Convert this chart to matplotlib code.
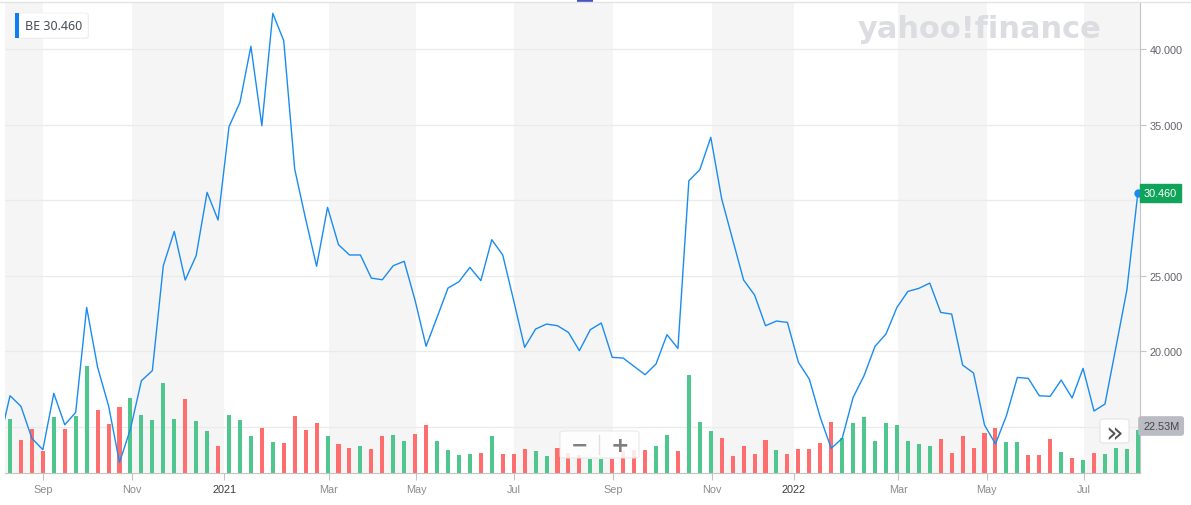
import matplotlib
matplotlib.use("Agg")
import matplotlib.pyplot as plt
from matplotlib.patches import Rectangle, FancyBboxPatch

# weekly closes, BE, Aug 2020 - Aug 2022
price_before = 13.9  # week before the window, only used so the line enters from the left edge
prices = [17.07, 16.37, 14.25, 13.5, 17.23, 15.15, 15.97, 22.91, 18.95, 16.41,
          12.66, 14.87, 18.06, 18.73, 25.67, 27.94, 24.72, 26.33, 30.52, 28.69,
          34.86, 36.47, 40.18, 34.93, 42.36, 40.55, 32.06, 28.76, 25.63, 29.53,
          27.06, 26.38, 26.38, 24.85, 24.74, 25.67, 25.96, 23.36, 20.34, 22.25,
          24.19, 24.61, 25.56, 24.68, 27.39, 26.38, 23.36, 20.27, 21.48, 21.81,
          21.70, 21.26, 20.05, 21.44, 21.88, 19.61, 19.56, 19.01, 18.46, 19.17,
          21.11, 20.20, 31.29, 32.02, 34.16, 30.08, 27.39, 24.72, 23.73, 21.70,
          22.01, 21.92, 19.28, 18.17, 15.64, 13.59, 14.25, 16.96, 18.40, 20.34,
          21.15, 22.91, 23.97, 24.17, 24.52, 22.58, 22.47, 19.10, 18.57, 15.13,
          13.88, 15.75, 18.28, 18.22, 17.07, 17.03, 18.11, 16.92, 18.88, 16.06,
          16.52, 20.27, 24.06, 30.46]

# weekly volume in millions
volumes = [28.1, 17.3, 23.1, 11.6, 29.3, 23.1, 29.7, 55.5, 32.9, 25.7,
           34.5, 39.2, 30.3, 27.7, 47.0, 28.3, 38.7, 27.2, 22.0, 14.2,
           30.3, 27.7, 19.4, 23.6, 16.3, 15.8, 29.8, 22.5, 26.2, 19.4,
           15.3, 13.2, 14.2, 12.7, 19.4, 19.9, 16.8, 20.5, 25.1, 16.8,
           12.1, 9.4, 10.1, 10.4, 19.4, 10.1, 10.1, 12.7, 11.6, 9.0,
           13.2, 10.4, 9.4, 7.3, 7.3, 7.5, 11.3, 11.8, 12.1, 14.2,
           19.9, 11.4, 51.0, 26.7, 21.8, 18.2, 9.0, 14.2, 10.1, 17.3,
           12.1, 10.1, 12.5, 12.5, 15.6, 26.7, 18.0, 26.0, 29.1, 16.6,
           26.0, 25.0, 16.6, 15.1, 14.0, 17.7, 10.4, 19.2, 13.0, 20.8,
           23.4, 16.1, 16.1, 9.4, 9.4, 17.7, 10.9, 7.8, 6.8, 10.4,
           9.9, 13.0, 12.5, 22.53]

# G = up week, R = down week
updown = ("GRRRGRGGRR" "RGGGGGRGGR" "GGGRGRRRRG" "RRGRRGGRRG" "GGGRGRRRGG"
          "RRRGGRRRRG" "GRGGGRRRRR" "GRRRRRGGGG" "GGGGGRRRRR" "RGGRRRGRGR" "GGGG")

# x tick labels and where they sit (in weeks from the first bar)
tick_labels = ["Sep", "Nov", "2021", "Mar", "May", "Jul", "Sep", "Nov", "2022", "Mar", "May", "Jul"]
tick_pos = [3.0, 11.1, 19.55, 29.1, 37.1, 46.05, 55.1, 64.1, 71.6, 81.1, 89.2, 98.1]

price_ticks = [15, 20, 25, 30, 35, 40]
hidden_ticks = [15, 30]  # covered by the volume / price flags
last_price = prices[-1]
last_volume = volumes[-1]

W, H = 1191, 506
BLUE = "#1a8cf0"
GREEN = "#4fc68e"
RED = "#ff6e6e"
AXFONT = "Liberation Sans"
AXSIZE = 7.8


def fx(x):
    return x / W


def fy(y):
    return 1 - y / H


fig = plt.figure(figsize=(W / 100, H / 100), dpi=100)
fig.patch.set_facecolor("white")
ax = fig.add_axes([fx(5), fy(474), (1140 - 5) / W, (474 - 3) / H])

x0, x1 = -0.457, 103.2

# alternating shaded month pairs
edges = [x0] + tick_pos + [x1]
for k in range(len(edges) - 1):
    if k % 2 == 0:
        ax.axvspan(edges[k], edges[k + 1], color="#f5f5f5", lw=0, zorder=0)

for v in price_ticks:
    ax.axhline(v, color="#ebebeb", lw=1, zorder=1)

# volume bars, scaled so 22.53M is ~43 px tall
vol_top = last_volume * 471 / 43.3
xs = list(range(len(prices)))
cols = [GREEN if c == "G" else RED for c in updown]
ax.bar(xs, [v / vol_top for v in volumes], width=0.37, color=cols,
       transform=ax.get_xaxis_transform(), zorder=2)

ax.plot([-1] + xs, [price_before] + prices, color=BLUE, lw=1.0, zorder=4)
ax.plot(xs[-1], last_price, "o", color=BLUE, ms=5, zorder=5, clip_on=False)

ax.set_xlim(x0, x1)
ax.set_ylim(11.96, 43.11)

for s in ["top", "left"]:
    ax.spines[s].set_visible(False)
ax.spines["right"].set_color("#c4c4c4")
ax.spines["bottom"].set_color("#c4c4c4")

ax.yaxis.tick_right()
ax.set_yticks(price_ticks)
ax.set_yticklabels(["" if v in hidden_ticks else "%.3f" % v for v in price_ticks])
ax.tick_params(axis="y", length=4, color="#c4c4c4", labelcolor="#5f6368",
               labelsize=AXSIZE, pad=3)
ax.set_xticks(tick_pos)
ax.set_xticklabels(tick_labels)
ax.tick_params(axis="x", length=5, color="#c4c4c4", labelsize=AXSIZE, pad=3)
for t in ax.get_xticklabels() + ax.get_yticklabels():
    t.set_fontfamily(AXFONT)
for t in ax.get_xticklabels():
    t.set_color("#3c3c3c" if t.get_text().isdigit() else "#8c8c8c")

# current price flag
fig.text(fx(1144), fy(194), "%.3f" % last_price, ha="left", va="center",
         fontsize=AXSIZE, family=AXFONT, color="white",
         bbox=dict(boxstyle="square,pad=0.35", fc="#10a35a", ec="#10a35a"))

# current volume flag
fig.text(fx(1143), fy(427), "%.2fM" % last_volume, ha="left", va="center",
         fontsize=AXSIZE, family=AXFONT, color="#464646",
         bbox=dict(boxstyle="round,pad=0.38,rounding_size=0.2", fc="#b9bcc3", ec="#b9bcc3"))

# top border and scroll marker
fig.add_artist(plt.Line2D([0, 1], [fy(3), fy(3)], color="#e3e3e3", lw=1))
fig.add_artist(Rectangle((fx(577), fy(3)), 16 / W, 3 / H, color="#4653c1", lw=0))

# watermark
fig.text(fx(980), fy(29), "yahoo!finance", ha="center", va="center",
         fontsize=22, fontweight="heavy", color="#dcdde1")

# ticker badge
fig.add_artist(FancyBboxPatch((fx(16), fy(40)), 73 / W, 26 / H,
                              boxstyle="round,pad=0,rounding_size=0.004",
                              fc="#e4e4e4", ec="none", alpha=0.6))
fig.add_artist(FancyBboxPatch((fx(15), fy(39)), 73 / W, 25 / H,
                              boxstyle="round,pad=0,rounding_size=0.004",
                              fc="white", ec="#f0f0f0", lw=0.5))
fig.add_artist(Rectangle((fx(15), fy(39)), 4 / W, 25 / H, color="#0f7ef2", lw=0))
fig.text(fx(25), fy(27), "BE 30.460", ha="left", va="center", fontsize=9,
         family="Noto Sans", color="#464e56")

# zoom buttons
fig.add_artist(FancyBboxPatch((fx(560), fy(459)), 79 / W, 27 / H,
                              boxstyle="round,pad=0,rounding_size=0.004",
                              fc="white", ec="#e6e6e6", lw=0.8, alpha=0.85))
fig.add_artist(plt.Line2D([fx(599), fx(599)], [fy(455), fy(436)], color="#e0e0e0", lw=1))
fig.text(fx(580), fy(446), "\u2212", ha="center", va="center", fontsize=15,
         fontweight="bold", color="#7f7f7f")
fig.text(fx(620), fy(446), "+", ha="center", va="center", fontsize=16,
         fontweight="bold", color="#7f7f7f")

# scroll button
fig.add_artist(FancyBboxPatch((fx(1100), fy(444)), 29 / W, 24 / H,
                              boxstyle="round,pad=0,rounding_size=0.004",
                              fc="white", ec="#e4e4e4", lw=0.8))
fig.text(fx(1114.5), fy(433.5), "\u00bb", ha="center", va="center", fontsize=21,
         color="#555555")

fig.savefig("out.png", dpi=100, facecolor="white")
